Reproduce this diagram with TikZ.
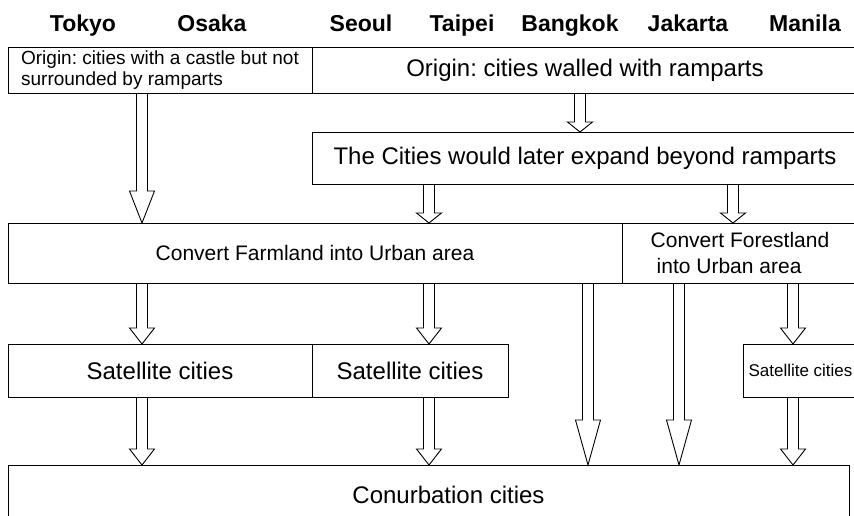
\documentclass[tikz,border=0pt]{standalone}
\usepackage{fontspec}
\setmainfont{Liberation Sans}
\frenchspacing
\usetikzlibrary{positioning, calc}

\begin{document}
\begin{tikzpicture}[
    x=1pt, y=-1pt,
    box/.style={rectangle, draw, line width=0.9pt, inner sep=0pt, outer sep=0pt, anchor=north west, align=center, font=\fontsize{24}{28}\selectfont},
    city/.style={anchor=base, inner sep=0pt, font=\bfseries\fontsize{23}{27}\selectfont},
    hollow/.style={draw, line width=0.9pt, to path={let \p1=(\tikztostart), \p2=(\tikztotarget) in
        (\x1-5.5pt,\y1) -- (\x1-5.5pt,\y2+#1) -- (\x1-12.5pt,\y2+#1) -- (\x1,\y2)
        -- (\x1+12.5pt,\y2+#1) -- (\x1+5.5pt,\y2+#1) -- (\x1+5.5pt,\y1)}},
    hollow/.default=16pt
]
    \clip (0,0) rectangle (854,515);

    % city names
    \node[city] (tokyo) at (83,31) {Tokyo};
    \node[city] (osaka) at (212,31) {Osaka};
    \node[city] (seoul) at (361,31) {Seoul};
    \node[city] (taipei) at (462,31) {Taipei};
    \node[city] (bangkok) at (570,31) {Bangkok};
    \node[city] (jakarta) at (688,31) {Jakarta};
    \node[city] (manila) at (805,31) {Manila};

    % boxes
    \node[box, minimum width=304pt, minimum height=46pt, align=left, font=\fontsize{19}{21}\selectfont] (castle) at (8,47)
        {Origin: cities with a castle but not\\surrounded by ramparts};
    \node[box, minimum width=546pt, minimum height=46pt, right=0pt of castle] (walled) {Origin: cities walled with ramparts};
    \node[box, minimum width=546pt, minimum height=52pt] (expand) at (312,132) {The Cities would later expand beyond ramparts};
    \node[box, minimum width=614pt, minimum height=60pt, font=\fontsize{21}{25}\selectfont] (farm) at (8,223) {Convert Farmland into Urban area};
    \node[box, minimum width=236pt, minimum height=60pt, align=left, font=\fontsize{21}{26}\selectfont, right=0pt of farm] (forest)
        {Convert Forestland\\\hspace*{6pt}into Urban area};
    \node[box, minimum width=304pt, minimum height=53pt] (sat1) at (8,344) {Satellite cities};
    \node[box, minimum width=196pt, minimum height=53pt, right=0pt of sat1] (sat2) {Satellite cities};
    \node[box, minimum width=115pt, minimum height=53pt, font=\fontsize{17}{20}\selectfont] (sat3) at (743,344) {Satellite cities};
    \node[box, minimum width=841pt, minimum height=60pt] (conurb) at (8,465) {\hspace*{40pt}Conurbation cities};

    % arrow columns
    \coordinate (colA) at (142,0);
    \coordinate (colB) at (429,0);
    \coordinate (colC) at (580,0);
    \coordinate (colD) at (588,0);
    \coordinate (colE) at (679,0);
    \coordinate (colF) at (733,0);
    \coordinate (colG) at (793,0);

    % arrows
    \draw[hollow=10pt] (walled.south -| colC) to (expand.north -| colC);
    \draw[hollow=32pt] (castle.south -| colA) to (farm.north -| colA);
    \draw[hollow=10pt] (expand.south -| colB) to (farm.north -| colB);
    \draw[hollow=10pt] (expand.south -| colF) to (forest.north -| colF);
    \draw[hollow] (farm.south -| colA) to (sat1.north -| colA);
    \draw[hollow] (farm.south -| colB) to (sat2.north -| colB);
    \draw[hollow] (forest.south -| colG) to (sat3.north -| colG);
    \draw[hollow=45pt] (farm.south -| colD) to (conurb.north -| colD);
    \draw[hollow=45pt] (forest.south -| colE) to (conurb.north -| colE);
    \draw[hollow] (sat1.south -| colA) to (conurb.north -| colA);
    \draw[hollow] (sat2.south -| colB) to (conurb.north -| colB);
    \draw[hollow] (sat3.south -| colG) to (conurb.north -| colG);
\end{tikzpicture}
\end{document}
